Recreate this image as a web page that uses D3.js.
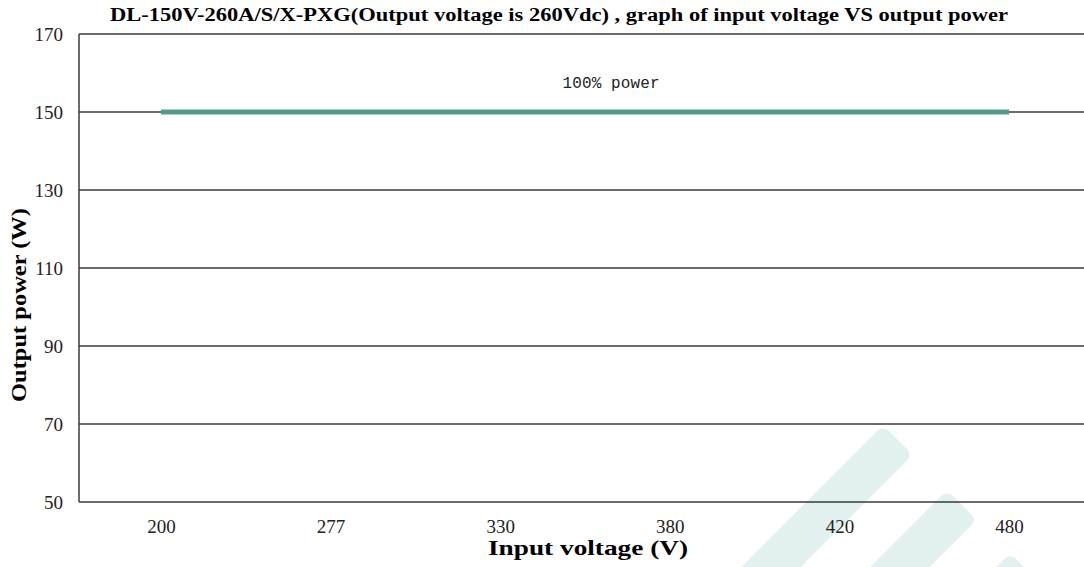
<!DOCTYPE html>
<html>
<head>
<meta charset="utf-8">
<script src="https://d3js.org/d3.v7.min.js"></script>
<style>
body { margin: 0; background: #fff; }
svg { display: block; }
.tick text { font-family: "Liberation Serif", serif; font-size: 19px; fill: #222; }
.grid line { stroke: #3a3a3a; stroke-width: 1.5; }
</style>
</head>
<body>
<div id="chart"></div>
<script>
// data
var voltages = ["200", "277", "330", "380", "420", "480"];
var powerFull = [150, 150, 150, 150, 150, 150];
var yTicks = [50, 70, 90, 110, 130, 150, 170];
var seriesName = "100% power";

var W = 1084, H = 567;
var plotLeft = 79, plotTop = 34, plotBottom = 502;

var svg = d3.select("#chart").append("svg")
    .attr("width", W)
    .attr("height", H);

// faint logo watermark in the corner
var wm = svg.append("g").attr("fill", "#e2f0f0");
[[898, 440, 300], [962, 505, 180], [1025, 568, 80]].forEach(function(s) {
  wm.append("rect")
    .attr("x", -21).attr("y", 0)
    .attr("width", 42).attr("height", s[2])
    .attr("rx", 8)
    .attr("transform", "translate(" + s[0] + "," + s[1] + ")rotate(45)");
});

var x = d3.scalePoint().domain(voltages).range([161, 1009]);
var y = d3.scaleLinear().domain([50, 170]).range([plotBottom, plotTop]);

// horizontal grid
svg.append("g")
    .attr("class", "grid")
    .selectAll("line")
    .data(yTicks)
    .enter().append("line")
    .attr("x1", plotLeft).attr("x2", W)
    .attr("y1", function(d) { return y(d); })
    .attr("y2", function(d) { return y(d); });

// left axis line
svg.append("line")
    .attr("x1", plotLeft).attr("x2", plotLeft)
    .attr("y1", plotTop).attr("y2", plotBottom)
    .attr("stroke", "#3a3a3a").attr("stroke-width", 1.5);

var yAxis = svg.append("g")
    .attr("transform", "translate(" + plotLeft + ",0)")
    .call(d3.axisLeft(y).tickValues(yTicks).tickSize(0).tickPadding(16));
yAxis.select(".domain").remove();

var xAxis = svg.append("g")
    .attr("transform", "translate(0," + plotBottom + ")")
    .call(d3.axisBottom(x).tickSize(0).tickPadding(18));
xAxis.select(".domain").remove();

// series line
var line = d3.line()
    .x(function(d, i) { return x(voltages[i]); })
    .y(function(d) { return y(d); });

svg.append("path")
    .datum(powerFull)
    .attr("d", line)
    .attr("fill", "none")
    .attr("stroke", "#519c88")
    .attr("stroke-width", 5);

svg.append("text")
    .attr("x", 611).attr("y", 88)
    .attr("text-anchor", "middle")
    .attr("font-family", "Liberation Mono, monospace")
    .attr("font-size", 16)
    .attr("textLength", 97)
    .attr("fill", "#222")
    .text(seriesName);

// title and axis labels
svg.append("text")
    .attr("x", 559).attr("y", 21)
    .attr("text-anchor", "middle")
    .attr("font-family", "Liberation Serif, serif")
    .attr("font-weight", "bold")
    .attr("font-size", 18)
    .attr("textLength", 898)
    .attr("lengthAdjust", "spacingAndGlyphs")
    .text("DL-150V-260A/S/X-PXG(Output voltage is 260Vdc) , graph of input voltage VS output power");

svg.append("text")
    .attr("x", 588).attr("y", 555)
    .attr("text-anchor", "middle")
    .attr("font-family", "Liberation Serif, serif")
    .attr("font-weight", "bold")
    .attr("font-size", 21)
    .attr("textLength", 200)
    .attr("lengthAdjust", "spacingAndGlyphs")
    .text("Input voltage (V)");

svg.append("text")
    .attr("transform", "translate(26,305)rotate(-90)")
    .attr("text-anchor", "middle")
    .attr("font-family", "Liberation Serif, serif")
    .attr("font-weight", "bold")
    .attr("font-size", 20)
    .attr("textLength", 194)
    .attr("lengthAdjust", "spacingAndGlyphs")
    .text("Output power (W)");
</script>
</body>
</html>
